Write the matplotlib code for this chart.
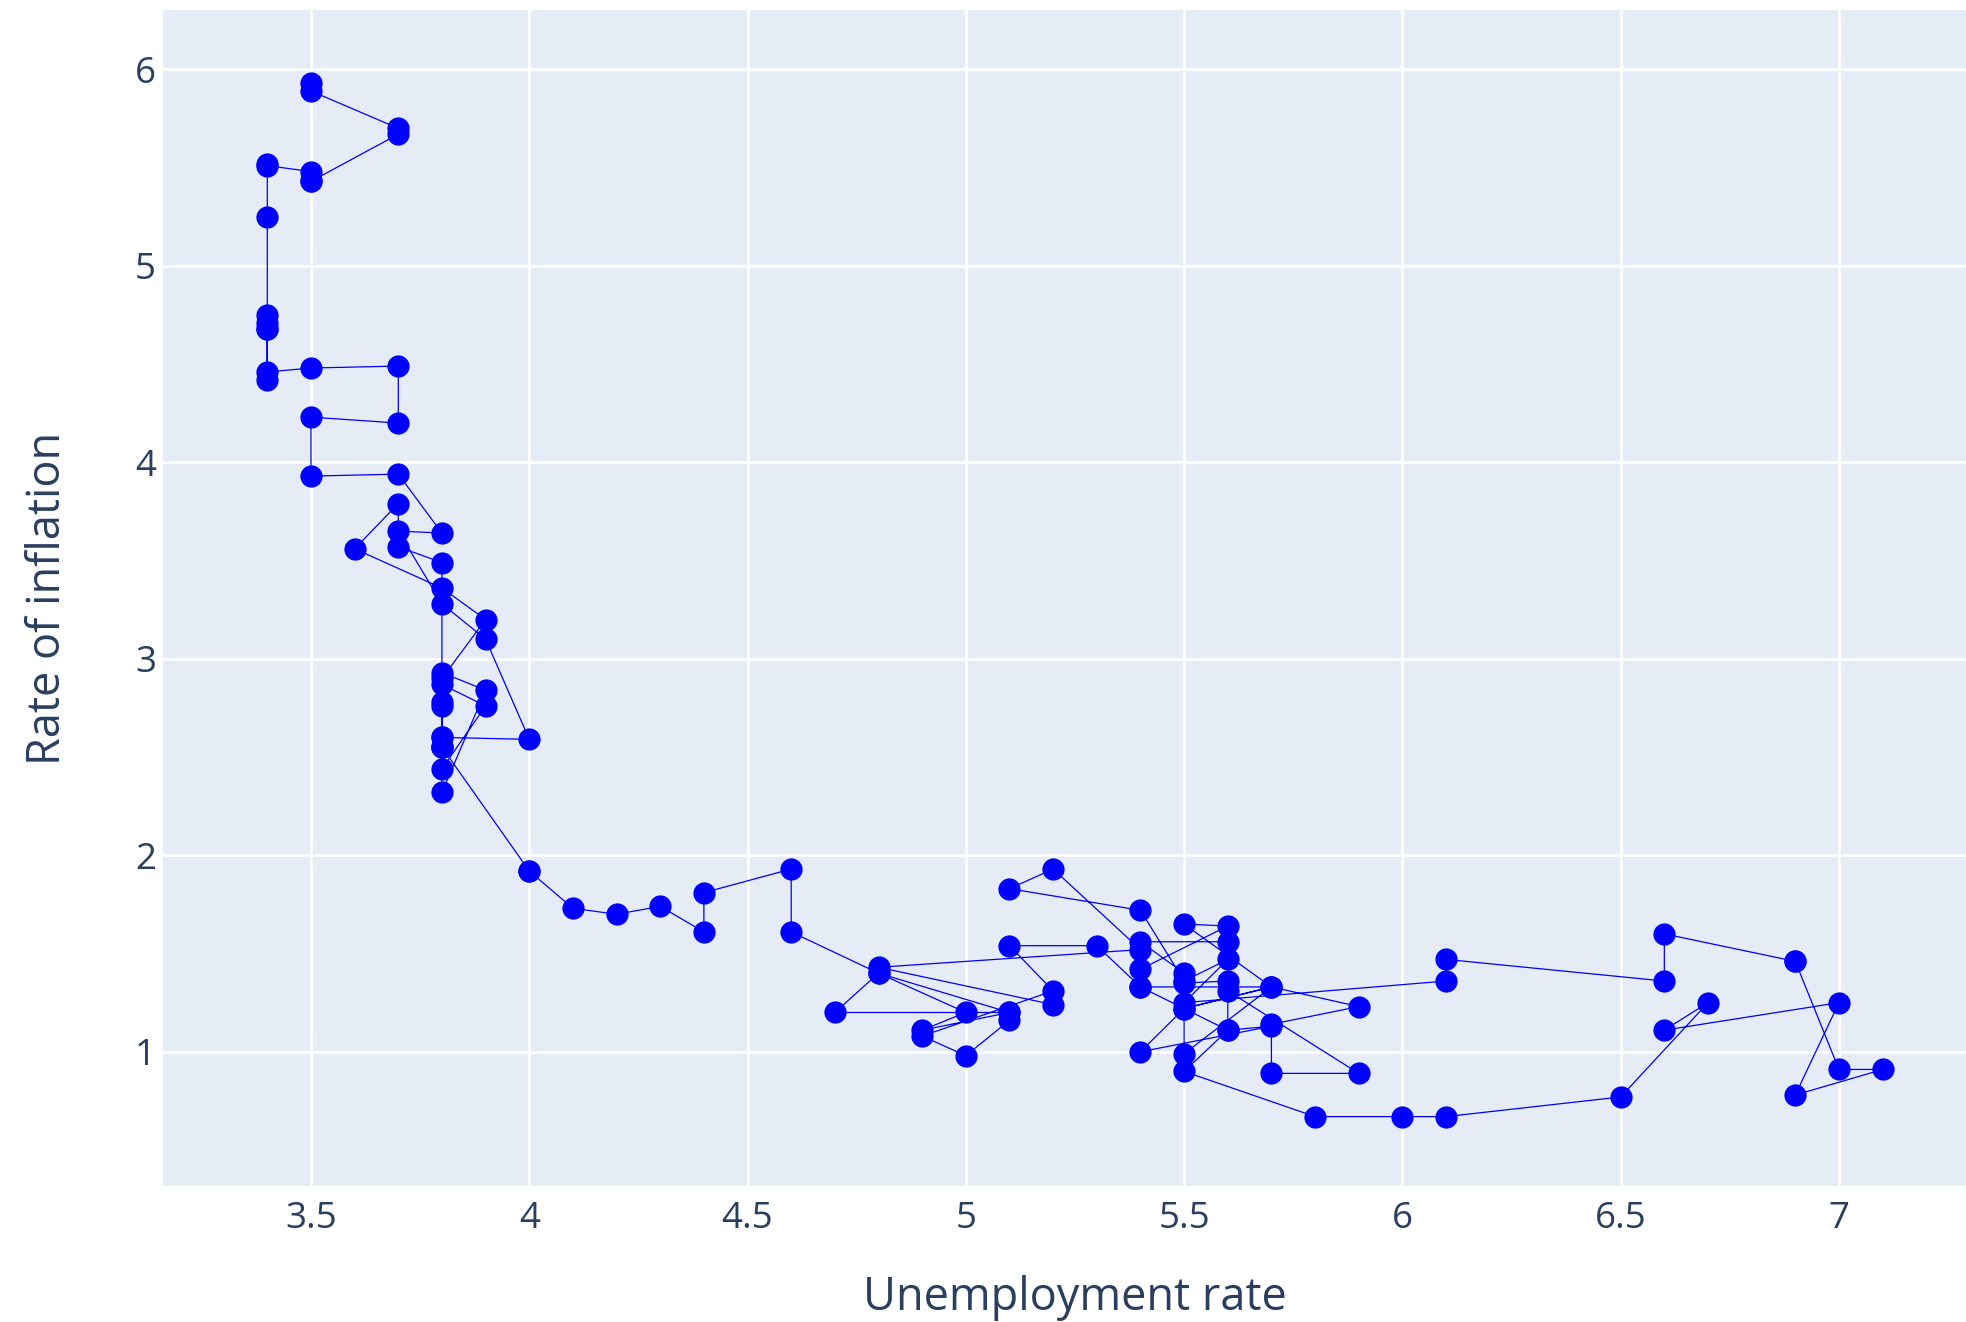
#!/usr/bin/env python3

"""
Phillips curve for the US in the 1960s: monthly unemployment rate against
the year-on-year rate of inflation, joined in time order (Jan 1960 - Dec 1969).
Styled like the default plotly template.
"""

import matplotlib.pyplot as plt

# one row per year, Jan..Dec
unemployment_rate = [
    5.2, 4.8, 5.4, 5.2, 5.1, 5.4, 5.5, 5.6, 5.5, 6.1, 6.1, 6.6,  # 1960
    6.6, 6.9, 6.9, 7.0, 7.1, 6.9, 7.0, 6.6, 6.7, 6.5, 6.1, 6.0,  # 1961
    5.8, 5.5, 5.6, 5.6, 5.5, 5.5, 5.4, 5.7, 5.6, 5.4, 5.7, 5.5,  # 1962
    5.7, 5.9, 5.7, 5.7, 5.9, 5.6, 5.6, 5.4, 5.5, 5.5, 5.7, 5.5,  # 1963
    5.6, 5.4, 5.4, 5.3, 5.1, 5.2, 4.9, 5.0, 5.1, 5.1, 4.8, 5.0,  # 1964
    4.9, 5.1, 4.7, 4.8, 4.6, 4.6, 4.4, 4.4, 4.3, 4.2, 4.1, 4.0,  # 1965
    4.0, 3.8, 3.8, 3.8, 3.9, 3.8, 3.8, 3.8, 3.7, 3.7, 3.6, 3.8,  # 1966
    3.9, 3.8, 3.8, 3.8, 3.8, 3.9, 3.8, 3.8, 3.8, 4.0, 3.9, 3.8,  # 1967
    3.7, 3.8, 3.7, 3.5, 3.5, 3.7, 3.7, 3.5, 3.4, 3.4, 3.4, 3.4,  # 1968
    3.4, 3.4, 3.4, 3.4, 3.4, 3.5, 3.5, 3.5, 3.7, 3.7, 3.5, 3.5,  # 1969
]

inflation_rate = [
    1.24, 1.43, 1.52, 1.93, 1.83, 1.72, 1.36, 1.47, 1.25, 1.36, 1.47, 1.36,  # 1960
    1.60, 1.46, 1.46, 0.91, 0.91, 0.78, 1.25, 1.11, 1.25, 0.77, 0.67, 0.67,  # 1961
    0.67, 0.90, 1.11, 1.36, 1.35, 1.22, 1.00, 1.13, 1.11, 1.33, 1.33, 1.22,  # 1962
    1.33, 1.23, 1.14, 0.89, 0.89, 1.31, 1.56, 1.56, 1.40, 0.99, 1.33, 1.65,  # 1963
    1.64, 1.42, 1.33, 1.54, 1.54, 1.31, 1.08, 0.98, 1.16, 1.20, 1.40, 1.20,  # 1964
    1.11, 1.20, 1.20, 1.40, 1.61, 1.93, 1.81, 1.61, 1.74, 1.70, 1.73, 1.92,  # 1965
    1.92, 2.55, 2.78, 2.87, 2.76, 2.44, 2.76, 3.49, 3.57, 3.79, 3.56, 3.36,  # 1966
    3.20, 2.90, 2.55, 2.55, 2.32, 2.84, 2.93, 2.60, 2.60, 2.59, 3.10, 3.28,  # 1967
    3.65, 3.64, 3.94, 3.93, 4.23, 4.20, 4.49, 4.48, 4.46, 4.75, 4.42, 4.71,  # 1968
    4.68, 4.68, 5.25, 5.52, 5.51, 5.48, 5.43, 5.43, 5.67, 5.70, 5.89, 5.93,  # 1969
]

x_ticks = [3.5, 4, 4.5, 5, 5.5, 6, 6.5, 7]
x_tick_labels = ["3.5", "4", "4.5", "5", "5.5", "6", "6.5", "7"]
y_ticks = [1, 2, 3, 4, 5, 6]
y_tick_labels = ["1", "2", "3", "4", "5", "6"]

BG_COLOR = "#E5ECF6"
TEXT_COLOR = "#2a3f5f"


def plot_phillips_curve():
    """Draw the connected scatter of unemployment vs inflation."""
    plt.rcParams["font.family"] = ["Open Sans", "DejaVu Sans"]

    fig = plt.figure(figsize=(19.66, 13.22), dpi=100)
    ax = fig.add_axes([0.0829, 0.1029, 0.9171, 0.8895])
    ax.set_facecolor(BG_COLOR)

    ax.plot(
        unemployment_rate,
        inflation_rate,
        color="blue",
        linewidth=0.9,
        marker="o",
        markersize=16,
        markeredgewidth=0,
        zorder=3,
    )

    ax.set_xlim(3.161, 7.291)
    ax.set_ylim(0.317, 6.302)
    ax.set_xticks(x_ticks)
    ax.set_xticklabels(x_tick_labels)
    ax.set_yticks(y_ticks)
    ax.set_yticklabels(y_tick_labels)

    ax.grid(True, color="white", linewidth=2)
    ax.set_axisbelow(True)
    for spine in ax.spines.values():
        spine.set_visible(False)

    ax.tick_params(axis="both", length=0, labelsize=26.5, labelcolor=TEXT_COLOR)
    ax.tick_params(axis="x", pad=11)
    ax.tick_params(axis="y", pad=5)

    ax.set_xlabel("Unemployment rate", fontsize=32.5, color=TEXT_COLOR, va="center")
    ax.xaxis.set_label_coords(0.506, -0.0952)
    ax.set_ylabel("Rate of inflation", fontsize=32.5, color=TEXT_COLOR, va="center")
    ax.yaxis.set_label_coords(-0.0638, 0.5)

    return fig


def main():
    fig = plot_phillips_curve()
    fig.savefig("out.png", dpi=100)


if __name__ == "__main__":
    main()
